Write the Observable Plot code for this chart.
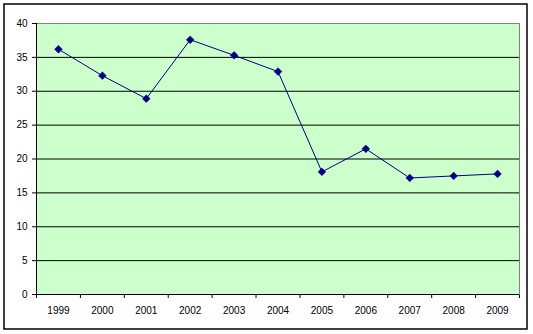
<!DOCTYPE html>
<html>
<head>
<meta charset="utf-8">
<script src="https://cdn.jsdelivr.net/npm/d3@7"></script>
<script src="https://cdn.jsdelivr.net/npm/@observablehq/plot@0.6"></script>
<style>
  html, body { margin: 0; padding: 0; background: #fff; }
  #chart { width: 533px; height: 334px; }
</style>
</head>
<body>
<div id="chart"></div>
<script>
const years = [1999, 2000, 2001, 2002, 2003, 2004, 2005, 2006, 2007, 2008, 2009];
const values = [36.2, 32.3, 28.9, 37.6, 35.3, 32.9, 18.1, 21.5, 17.2, 17.5, 17.8];
const yTicks = [0, 5, 10, 15, 20, 25, 30, 35, 40];
const gridLines = [0, 5, 10, 15, 20, 25, 30, 35];

const data = years.map((year, i) => ({year, value: values[i]}));
const xDomain = [years[0] - 0.5, years[years.length - 1] + 0.5];
const boundaries = d3.range(years.length + 1).map(i => years[0] - 0.5 + i);

const plot = Plot.plot({
  width: 533,
  height: 334,
  marginLeft: 36,
  marginRight: 14,
  marginTop: 23,
  marginBottom: 40,
  style: {fontFamily: "'Liberation Sans', Arial, sans-serif", fontSize: "10px", color: "#000", background: "transparent"},
  x: {type: "linear", domain: xDomain, ticks: boundaries, tickFormat: () => "", tickSize: 4, label: null, line: false},
  y: {domain: [0, 40], ticks: yTicks, tickSize: 4, tickPadding: 5, label: null},
  marks: [
    Plot.frame({fill: "#ccffcc", stroke: "#808080"}),
    Plot.ruleY(gridLines, {stroke: "#000", strokeWidth: 1}),
    Plot.ruleX([xDomain[0]], {stroke: "#000", strokeWidth: 1}),
    Plot.line(data, {x: "year", y: "value", stroke: "#000080", strokeWidth: 1}),
    Plot.dot(data, {x: "year", y: "value", symbol: "diamond2", r: 3.5, fill: "#000080", stroke: "#000080", strokeWidth: 0.5}),
    Plot.text(years, {x: d => d, y: () => 0, text: d => String(d), dy: 16, fill: "#000", fontSize: 10})
  ]
});

d3.select(plot).insert("rect", ":first-child")
  .attr("x", 4).attr("y", 4).attr("width", 523).attr("height", 325)
  .attr("fill", "#fff").attr("stroke", "#000").attr("stroke-width", 1.5);

document.getElementById("chart").appendChild(plot);
</script>
</body>
</html>
